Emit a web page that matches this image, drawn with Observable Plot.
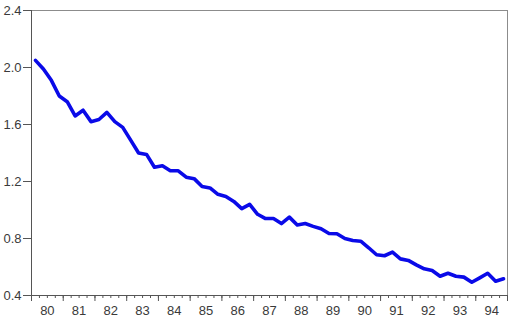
<!DOCTYPE html>
<html>
<head>
<meta charset="utf-8">
<script src="https://cdn.jsdelivr.net/npm/d3@7"></script>
<script src="https://cdn.jsdelivr.net/npm/@observablehq/plot@0.6"></script>
<style>
  html, body { margin: 0; padding: 0; background: #fff; }
</style>
</head>
<body>
<div id="chart"></div>
<script>
// Quarterly series, 1980Q1 .. 1994Q4
const startYear = 1980;
const values = [
  2.05, 1.99, 1.91, 1.80, 1.76, 1.66, 1.70, 1.62, 1.635, 1.685,
  1.62, 1.58, 1.49, 1.40, 1.39, 1.30, 1.31, 1.275, 1.275, 1.23,
  1.22, 1.165, 1.155, 1.11, 1.095, 1.06, 1.01, 1.04, 0.97, 0.94,
  0.94, 0.905, 0.95, 0.895, 0.905, 0.885, 0.868, 0.835, 0.833, 0.80,
  0.786, 0.781, 0.735, 0.686, 0.679, 0.704, 0.657, 0.646, 0.615, 0.587,
  0.575, 0.535, 0.556, 0.535, 0.529, 0.493, 0.524, 0.556, 0.50, 0.517
];
const yTicks = [0.4, 0.8, 1.2, 1.6, 2.0, 2.4];
const yearTicks = d3.range(1980, 1996);          // year boundaries
const yearLabels = ["80","81","82","83","84","85","86","87","88","89","90","91","92","93","94"];

const data = values.map((v, i) => ({t: startYear + (i + 0.5) / 4, v}));
const quarterTicks = d3.range(0, 61).map(i => startYear + i / 4);
const labelPos = yearLabels.map((s, i) => startYear + i + 0.5);

const chart = Plot.plot({
  width: 511,
  height: 328,
  marginLeft: 31,
  marginRight: 4,
  marginTop: 10,
  marginBottom: 33,
  style: {fontFamily: "'Liberation Sans', Arial, sans-serif", fontSize: "13px", color: "#3a3a3a", background: "#fff"},
  x: {domain: [1980, 1995]},
  y: {domain: [0.4, 2.4]},
  marks: [
    Plot.frame({stroke: "#8c8c8c"}),
    Plot.ruleX([1980], {stroke: "#555"}),
    Plot.ruleY([0.4], {stroke: "#555"}),
    Plot.axisY({ticks: yTicks, tickSize: 8, tickPadding: 2, tickFormat: d3.format(".1f"), stroke: "#555", label: null}),
    Plot.axisX({ticks: quarterTicks, tickSize: 3, tickFormat: () => "", stroke: "#555", label: null}),
    Plot.axisX({ticks: yearTicks, tickSize: 6, tickFormat: () => "", stroke: "#555", label: null}),
    Plot.axisX({ticks: labelPos, tickSize: 0, tickPadding: 10, tickFormat: (d, i) => yearLabels[i], label: null}),
    Plot.line(data, {x: "t", y: "v", stroke: "#0a0ae8", strokeWidth: 3.6, strokeLinejoin: "round"})
  ]
});
document.getElementById("chart").appendChild(chart);
</script>
</body>
</html>
